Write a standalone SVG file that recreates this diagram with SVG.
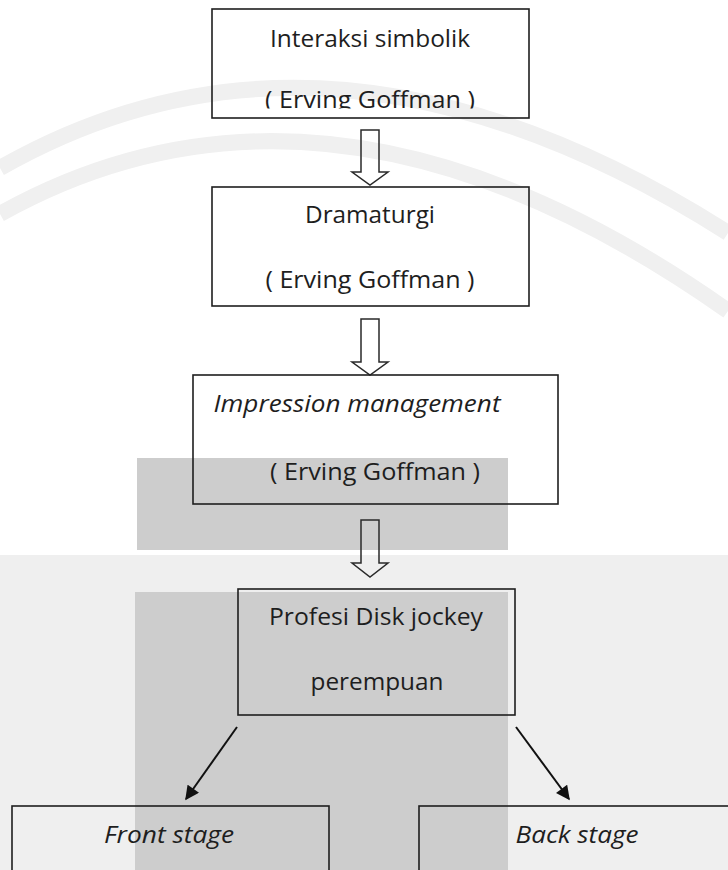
<svg xmlns="http://www.w3.org/2000/svg" width="728" height="870" viewBox="0 0 728 870">
  <defs>
    <style>
      .box { fill: none; stroke: #1e1e1e; stroke-width: 1.6; }
      .t { font-family: "Open Sans", "Liberation Sans", sans-serif; font-size: 24px; fill: #1e1e1e; text-anchor: middle; }
      .i { font-style: italic; }
      .blk { fill: none; stroke: #2a2a2a; stroke-width: 1.5; stroke-linejoin: miter; }
      .con { stroke: #111; stroke-width: 2; fill: none; }
      .wm { fill: none; stroke: #f0f0f0; stroke-width: 16; }
    </style>
    <marker id="ah" viewBox="0 0 10 10" refX="9" refY="5" markerWidth="7.5" markerHeight="7" orient="auto" markerUnits="strokeWidth">
      <path d="M0,0 L10,5 L0,10 Z" fill="#111"/>
    </marker>
    <clipPath id="clip1">
      <rect x="200" y="60" width="340" height="48.5"/>
    </clipPath>
  </defs>

  <g id="background">
    <rect x="0" y="0" width="728" height="870" fill="#ffffff"/>
    <rect x="0" y="555" width="728" height="315" fill="#efefef"/>
    <path class="wm" d="M0,168 Q330,-20 728,233"/>
    <path class="wm" d="M0,214 Q330,30 728,311" stroke-width="12"/>
    <rect x="137" y="458" width="371" height="92" fill="#cdcdcd"/>
    <rect x="135" y="592" width="373" height="278" fill="#cdcdcd"/>
  </g>

  <g id="connectors">
    <path class="blk" d="M361,130 H379 V172 H388 L370,185 L352,172 H361 Z"/>
    <path class="blk" d="M361,319 H379 V362 H388 L370,375 L352,362 H361 Z"/>
    <path class="blk" d="M361,520 H379 V563 H388 L370,577 L352,563 H361 Z"/>
    <line class="con" x1="237" y1="727" x2="186" y2="799" marker-end="url(#ah)"/>
    <line class="con" x1="516" y1="727" x2="569" y2="799" marker-end="url(#ah)"/>
  </g>

  <g id="node-interaksi">
    <rect class="box" x="212" y="9" width="317" height="109"/>
    <text class="t" x="370" y="47" textLength="200" lengthAdjust="spacingAndGlyphs">Interaksi simbolik</text>
    <text class="t" x="370" y="108" textLength="210" lengthAdjust="spacingAndGlyphs" clip-path="url(#clip1)">( Erving Goffman )</text>
  </g>

  <g id="node-dramaturgi">
    <rect class="box" x="212" y="187" width="317" height="119"/>
    <text class="t" x="370" y="223" textLength="130" lengthAdjust="spacingAndGlyphs">Dramaturgi</text>
    <text class="t" x="370" y="288" textLength="209" lengthAdjust="spacingAndGlyphs">( Erving Goffman )</text>
  </g>

  <g id="node-impression">
    <rect class="box" x="193" y="375" width="365" height="129"/>
    <text class="t i" x="357" y="412" textLength="287" lengthAdjust="spacingAndGlyphs">Impression management</text>
    <text class="t" x="375" y="480" textLength="210" lengthAdjust="spacingAndGlyphs">( Erving Goffman )</text>
  </g>

  <g id="node-profesi">
    <rect class="box" x="238" y="589" width="277" height="126"/>
    <text class="t" x="376" y="625" textLength="214" lengthAdjust="spacingAndGlyphs">Profesi Disk jockey</text>
    <text class="t" x="377" y="690" textLength="133" lengthAdjust="spacingAndGlyphs">perempuan</text>
  </g>

  <g id="node-front">
    <rect class="box" x="12" y="806" width="317" height="80"/>
    <text class="t i" x="169" y="843" textLength="130" lengthAdjust="spacingAndGlyphs">Front stage</text>
  </g>

  <g id="node-back">
    <rect class="box" x="419" y="806" width="330" height="80"/>
    <text class="t i" x="577" y="843" textLength="123" lengthAdjust="spacingAndGlyphs">Back stage</text>
  </g>
</svg>
